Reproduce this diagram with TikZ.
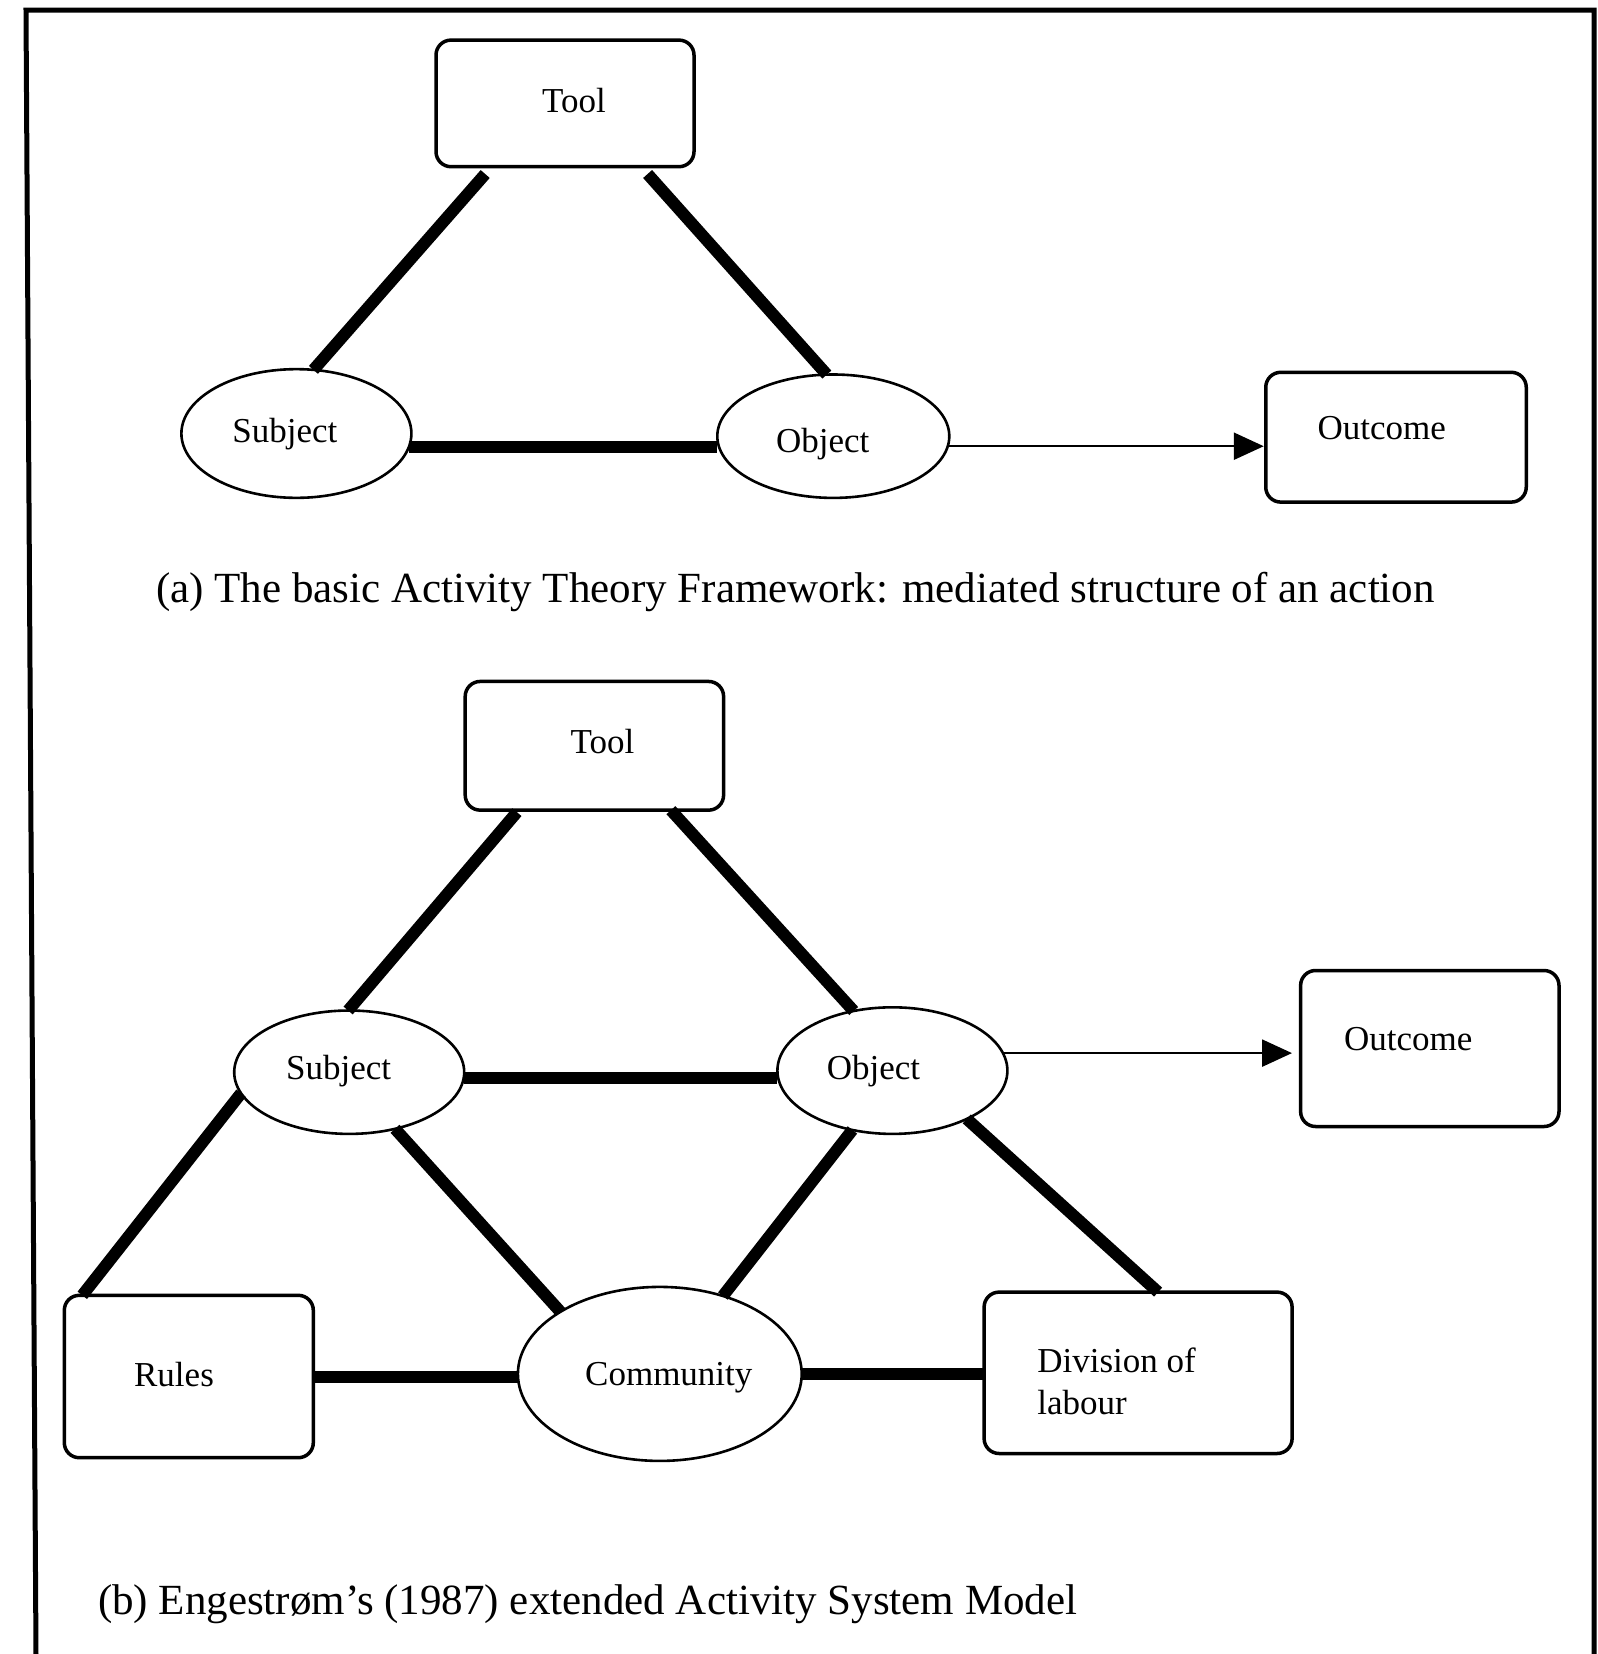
\documentclass[tikz,border=0pt]{standalone}
\usepackage{fontspec}
\setmainfont{Liberation Serif}
\usetikzlibrary{shapes.geometric,arrows.meta,calc}
\begin{document}
\begin{tikzpicture}[x=0.5pt,y=-0.5pt,
  every node/.style={font=\fontsize{17.5}{21}\selectfont, inner sep=0pt, outer sep=0pt},
  boxn/.style={draw, rectangle, rounded corners=7.5pt, line width=1.75pt},
  elln/.style={draw, ellipse, line width=1.3pt},
  conn/.style={line width=6pt},
  arr/.style={line width=1.25pt, -{Triangle[length=15pt,width=13.5pt]}},
  captext/.style={font=\fontsize{21.5}{26}\selectfont, anchor=west}]
\useasboundingbox (0,0) rectangle (1598,1654);
\draw[line width=2.5pt] (36,1654) -- (26,10) -- (1594,10) -- (1594,1654);

% ---------- (a) ----------
\node[boxn, minimum width=129pt, minimum height=63.3pt,
  label={[xshift=4.5pt,yshift=1.5pt]center:Tool}] (ToolA) at (565,103.4) {};
\node[elln, minimum width=115pt, minimum height=64.35pt,
  label={[xshift=-5.8pt,yshift=-0.5pt]center:Subject}] (SubjA) at (296.4,433.5) {};
\node[elln, minimum width=116pt, minimum height=61.7pt,
  label={[xshift=-5.3pt,yshift=-4pt]center:Object}] (ObjA) at (833.3,436.2) {};
\node[boxn, minimum width=130.25pt, minimum height=64.9pt,
  label={[xshift=-7.1pt,yshift=4.5pt]center:Outcome}] (OutA) at (1396,437.2) {};

\draw[conn] ($(ToolA.south west)+(49.2,7.3)$) -- (SubjA.75);
\draw[conn] ($(ToolA.south west)+(211.6,7.3)$) -- (ObjA.96.5);
\draw[conn] (SubjA.-7) -- (SubjA.-7 -| ObjA.west);
\draw[arr, shorten >=1pt] (ObjA.-5) -- (ObjA.-5 -| OutA.west);

\node[captext] (capA) at (156,591.5) {(a) The basic Activity Theory Framework: mediated structure of an action};

% ---------- (b) ----------
\node[boxn, minimum width=129.2pt, minimum height=64.35pt,
  label={[xshift=4pt,yshift=2.1pt]center:Tool}] (ToolB) at (594.4,745.8) {};
\node[elln, minimum width=115pt, minimum height=61.7pt,
  label={[xshift=-5.3pt,yshift=0.5pt]center:Subject}] (SubjB) at (349.2,1072.2) {};
\node[elln, minimum width=115pt, minimum height=63.3pt,
  label={[xshift=-9.5pt,yshift=0pt]center:Object}] (ObjB) at (892.4,1070.6) {};
\node[boxn, minimum width=129.2pt, minimum height=78pt,
  label={[xshift=-10.8pt,yshift=4.75pt]center:Outcome}] (OutB) at (1429.8,1048.5) {};
\node[boxn, minimum width=124.5pt, minimum height=81.2pt,
  label={[xshift=-7.4pt,yshift=1pt]center:Rules}] (RulesB) at (188.8,1376.5) {};
\node[elln, minimum width=141.9pt, minimum height=87pt,
  label={[xshift=4.5pt,yshift=-2pt]center:Community}] (CommB) at (659.8,1373.9) {};
\node[boxn, minimum width=154pt, minimum height=80.7pt,
  label={[xshift=-10.8pt,yshift=-4.5pt,align=left]center:Division of\\labour}] (DivB) at (1138.1,1372.8) {};

\draw[conn] ($(ToolB.south west)+(51.7,2)$) -- (SubjB.91);
\draw[conn] ($(ToolB.south west)+(205.7,0)$) -- (ObjB.123);
\draw[conn] (SubjB.-3) -- (SubjB.-3 -| ObjB.west);
\draw[conn] (SubjB.191.5) -- ($(RulesB.north west)+(18,0)$);
\draw[conn] (SubjB.-51) -- (CommB.148);
\draw[conn] (ObjB.236) -- (CommB.51.6);
\draw[conn] (ObjB.-33) -- ($(DivB.north west)+(174,0)$);
\draw[conn] (RulesB.east) -- (RulesB.east -| CommB.west);
\draw[conn] (CommB.east) -- (CommB.east -| DivB.west);
\draw[arr, shorten >=4.3pt] (ObjB.9) -- (ObjB.9 -| OutB.west);

\node[captext] (capB) at (98,1604) {(b) Engestrøm’s (1987) extended Activity System Model};
\end{tikzpicture}
\end{document}
